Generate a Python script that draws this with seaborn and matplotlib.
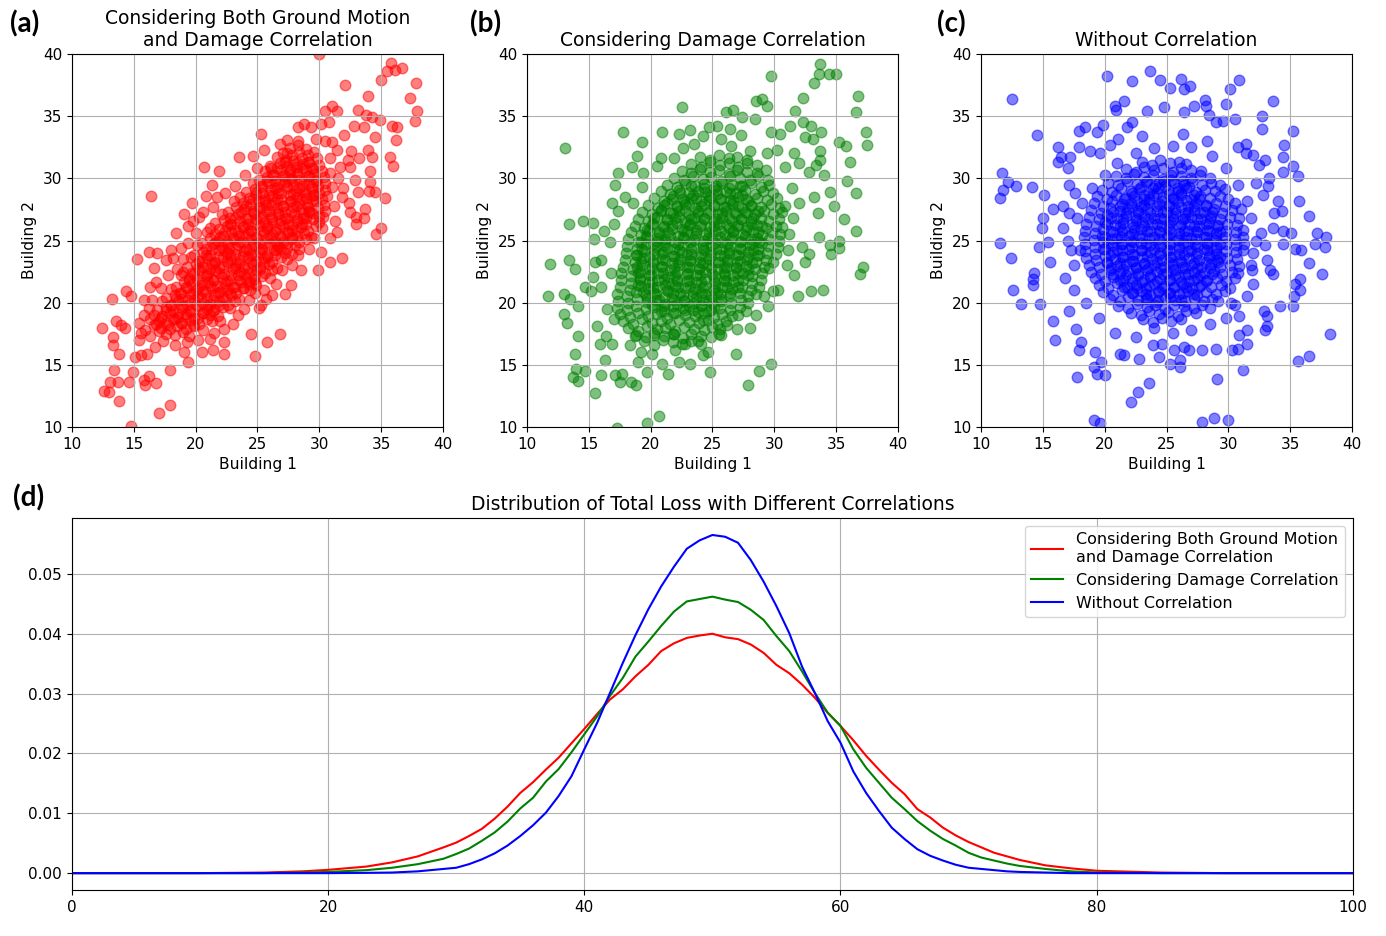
import pandas as pd
import matplotlib
matplotlib.use("Agg")
import matplotlib.pyplot as plt
import seaborn as sns

# ---- scatter data (Building 1, Building 2) ----
# (a) ground motion + damage correlation: dense core
red_core = [
    (15.6,17.6),(16.3,17.3),(17.0,17.7),(17.6,17.5),(18.3,17.4),(19.0,17.65),(19.5,17.3),
    (15.9,17.8),(16.6,18.2),(17.2,18.0),(17.9,17.9),(18.5,18.15),(19.2,17.85),(19.9,18.1),(20.6,17.8),
    (16.3,18.7),(17.0,18.5),(17.6,18.4),(18.3,18.65),(18.9,18.35),(19.6,18.6),(20.3,18.3),(20.9,18.7),(21.3,18.5),
    (16.6,19.0),(17.3,18.9),(17.9,19.15),(18.6,18.85),(19.2,19.1),(19.9,18.8),(20.6,19.2),(21.2,19.0),(21.8,18.9),
    (16.9,19.4),(17.6,19.65),(18.2,19.35),(18.9,19.6),(19.5,19.3),(20.2,19.7),(20.9,19.5),(21.5,19.4),(22.2,19.65),
    (17.3,20.15),(18.0,19.85),(18.6,20.1),(19.3,19.8),(19.9,20.2),(20.6,20.0),(21.2,19.9),(21.9,20.15),(22.6,19.85),(23.2,20.1),
    (17.6,20.35),(18.3,20.6),(18.9,20.3),(19.6,20.7),(20.2,20.5),(20.9,20.4),(21.5,20.65),(22.2,20.35),(22.9,20.6),(23.5,20.3),
    (18.0,21.1),(18.7,20.8),(19.3,21.2),(20.0,21.0),(20.6,20.9),(21.3,21.15),(22.0,20.85),(22.6,21.1),(23.3,20.8),(23.9,21.2),(24.4,21.0),
    (18.4,21.3),(19.1,21.7),(19.7,21.5),(20.4,21.4),(21.0,21.65),(21.7,21.35),(22.4,21.6),(23.0,21.3),(23.7,21.7),(24.3,21.5),(24.9,21.4),
    (18.8,22.2),(19.5,22.0),(20.1,21.9),(20.8,22.15),(21.4,21.85),(22.1,22.1),(22.8,21.8),(23.4,22.2),(24.1,22.0),(24.7,21.9),(25.4,22.15),
    (19.0,22.5),(19.7,22.4),(20.3,22.65),(21.0,22.35),(21.6,22.6),(22.3,22.3),(23.0,22.7),(23.6,22.5),(24.3,22.4),(24.9,22.65),(25.6,22.35),(26.2,22.6),
    (19.3,22.9),(20.0,23.15),(20.6,22.85),(21.3,23.1),(21.9,22.8),(22.6,23.2),(23.3,23.0),(23.9,22.9),(24.6,23.15),(25.2,22.85),(25.9,23.1),(26.6,22.8),
    (19.6,23.65),(20.3,23.35),(20.9,23.6),(21.6,23.3),(22.2,23.7),(22.9,23.5),(23.6,23.4),(24.2,23.65),(24.9,23.35),(25.5,23.6),(26.2,23.3),(26.9,23.7),(27.4,23.5),
    (19.9,23.85),(20.6,24.1),(21.2,23.8),(21.9,24.2),(22.5,24.0),(23.2,23.9),(23.9,24.15),(24.5,23.85),(25.2,24.1),(25.8,23.8),(26.5,24.2),(27.2,24.0),(27.8,23.9),
    (20.1,24.6),(20.8,24.3),(21.4,24.7),(22.1,24.5),(22.7,24.4),(23.4,24.65),(24.1,24.35),(24.7,24.6),(25.4,24.3),(26.0,24.7),(26.7,24.5),(27.4,24.4),(28.0,24.65),(28.4,24.35),
    (20.5,24.8),(21.2,25.2),(21.8,25.0),(22.5,24.9),(23.1,25.15),(23.8,24.85),(24.5,25.1),(25.1,24.8),(25.8,25.2),(26.4,25.0),(27.1,24.9),(27.8,25.15),(28.4,24.85),(28.9,25.1),
    (20.9,25.7),(21.6,25.5),(22.2,25.4),(22.9,25.65),(23.5,25.35),(24.2,25.6),(24.9,25.3),(25.5,25.7),(26.2,25.5),(26.8,25.4),(27.5,25.65),(28.2,25.35),(28.8,25.6),(29.3,25.3),
    (21.2,26.0),(21.9,25.9),(22.5,26.15),(23.2,25.85),(23.8,26.1),(24.5,25.8),(25.2,26.2),(25.8,26.0),(26.5,25.9),(27.1,26.15),(27.8,25.85),(28.5,26.1),(29.1,25.8),(29.7,26.2),
    (21.6,26.4),(22.3,26.65),(22.9,26.35),(23.6,26.6),(24.2,26.3),(24.9,26.7),(25.6,26.5),(26.2,26.4),(26.9,26.65),(27.5,26.35),(28.2,26.6),(28.9,26.3),(29.5,26.7),(30.0,26.5),
    (22.1,27.15),(22.8,26.85),(23.4,27.1),(24.1,26.8),(24.7,27.2),(25.4,27.0),(26.1,26.9),(26.7,27.15),(27.4,26.85),(28.0,27.1),(28.7,26.8),(29.4,27.2),(30.0,27.0),(30.3,26.9),
    (22.6,27.3),(23.3,27.7),(23.9,27.5),(24.6,27.4),(25.2,27.65),(25.9,27.35),(26.6,27.6),(27.2,27.3),(27.9,27.7),(28.5,27.5),(29.2,27.4),(29.9,27.65),(30.5,27.35),
    (23.1,28.2),(23.8,28.0),(24.4,27.9),(25.1,28.15),(25.7,27.85),(26.4,28.1),(27.1,27.8),(27.7,28.2),(28.4,28.0),(29.0,27.9),(29.7,28.15),(30.4,27.85),
    (23.6,28.5),(24.3,28.4),(24.9,28.65),(25.6,28.35),(26.2,28.6),(26.9,28.3),(27.6,28.7),(28.2,28.5),(28.9,28.4),(29.5,28.65),(30.2,28.35),(30.6,28.6),
    (24.1,28.9),(24.8,29.15),(25.4,28.85),(26.1,29.1),(26.7,28.8),(27.4,29.2),(28.1,29.0),(28.7,28.9),(29.4,29.15),(30.0,28.85),(30.5,29.1),
    (24.6,29.65),(25.3,29.35),(25.9,29.6),(26.6,29.3),(27.2,29.7),(27.9,29.5),(28.6,29.4),(29.2,29.65),(29.9,29.35),(30.5,29.6),
    (25.1,29.85),(25.8,30.1),(26.4,29.8),(27.1,30.2),(27.7,30.0),(28.4,29.9),(29.1,30.15),(29.7,29.85),(30.4,30.1),
    (25.6,30.6),(26.3,30.3),(26.9,30.7),(27.6,30.5),(28.2,30.4),(28.9,30.65),(29.6,30.35),(30.2,30.6),
    (26.1,30.8),(26.8,31.2),(27.4,31.0),(28.1,30.9),(28.7,31.15),(29.4,30.85),(30.0,31.1),
    (26.6,31.7),(27.3,31.5),(27.9,31.4),(28.6,31.65),(29.2,31.35),(29.8,31.6),
    (27.1,32.0),(27.8,31.9),(28.4,32.15),(29.1,31.85),(29.6,32.1),
    (27.6,32.4),(28.3,32.65),(28.9,32.35),
]
# (a) extra points in the most crowded middle of the band
red_core2 = [
    (16.8,18.3),(17.8,18.2),(18.8,18.35),(19.8,18.2),
    (17.2,18.8),(18.2,18.7),(19.2,18.85),(20.2,18.75),
    (17.6,19.3),(18.6,19.2),(19.6,19.35),(20.6,19.2),(21.4,19.3),
    (18.0,19.8),(19.0,19.7),(20.0,19.85),(21.0,19.75),(21.9,19.8),
    (18.4,20.3),(19.4,20.2),(20.4,20.35),(21.4,20.2),(22.4,20.3),
    (18.8,20.8),(19.8,20.7),(20.8,20.85),(21.8,20.75),(22.8,20.8),
    (19.2,21.3),(20.2,21.2),(21.2,21.35),(22.2,21.2),(23.2,21.3),(23.8,21.2),
    (19.5,21.8),(20.5,21.7),(21.5,21.85),(22.5,21.75),(23.5,21.8),(24.3,21.7),
    (19.9,22.3),(20.9,22.2),(21.9,22.35),(22.9,22.2),(23.9,22.3),(24.8,22.25),
    (20.2,22.8),(21.2,22.7),(22.2,22.85),(23.2,22.75),(24.2,22.8),(25.2,22.7),
    (20.5,23.3),(21.5,23.2),(22.5,23.35),(23.5,23.2),(24.5,23.3),(25.5,23.25),
    (20.8,23.8),(21.8,23.7),(22.8,23.85),(23.8,23.75),(24.8,23.8),(25.8,23.7),(26.4,23.8),
    (21.3,24.3),(22.3,24.2),(23.3,24.35),(24.3,24.2),(25.3,24.3),(26.3,24.25),(26.9,24.3),
    (21.6,24.8),(22.6,24.7),(23.6,24.85),(24.6,24.75),(25.6,24.8),(26.6,24.7),(27.4,24.8),
    (22.0,25.3),(23.0,25.2),(24.0,25.35),(25.0,25.2),(26.0,25.3),(27.0,25.25),(27.8,25.3),
    (22.4,25.8),(23.4,25.7),(24.4,25.85),(25.4,25.75),(26.4,25.8),(27.4,25.7),(28.2,25.8),
    (22.8,26.3),(23.8,26.2),(24.8,26.35),(25.8,26.2),(26.8,26.3),(27.8,26.25),(28.6,26.3),
    (23.2,26.8),(24.2,26.7),(25.2,26.85),(26.2,26.75),(27.2,26.8),(28.2,26.7),(28.9,26.8),
    (23.7,27.3),(24.7,27.2),(25.7,27.35),(26.7,27.2),(27.7,27.3),(28.7,27.25),(29.2,27.3),
    (24.1,27.8),(25.1,27.7),(26.1,27.85),(27.1,27.75),(28.1,27.8),(29.1,27.7),
    (24.6,28.3),(25.6,28.2),(26.6,28.35),(27.6,28.2),(28.6,28.3),(29.5,28.25),
    (24.9,28.8),(25.9,28.7),(26.9,28.85),(27.9,28.75),(28.9,28.8),(29.6,28.7),
    (25.4,29.3),(26.4,29.2),(27.4,29.35),(28.4,29.2),(29.4,29.3),
    (25.8,29.8),(26.8,29.7),(27.8,29.85),(28.8,29.75),(29.7,29.8),
    (26.2,30.3),(27.2,30.2),(28.2,30.35),(29.2,30.2),
    (26.6,30.8),(27.6,30.7),(28.6,30.85),(29.5,30.75),
    (27.2,31.3),(28.2,31.2),(29.1,31.35),
]
# (a) scattered points around the core
red_outer = [
    (30.0,40.0),(35.8,39.3),(35.5,38.6),(36.1,38.7),(36.7,38.9),(35.0,37.9),(32.1,37.5),(37.8,37.7),
    (33.9,36.6),(37.3,36.5),(37.9,35.4),(37.7,34.6),(31.0,35.8),(30.5,35.4),(31.4,35.4),(33.1,35.5),
    (33.8,35.1),(34.3,34.9),(34.9,34.7),(35.9,34.2),(36.3,34.1),(36.2,33.1),(35.7,31.7),(36.0,31.0),
    (35.3,28.4),(35.0,26.0),(34.6,25.5),(25.3,33.6),(23.5,31.7),(24.6,31.8),(25.5,32.3),(26.8,32.8),
    (27.4,33.1),(28.3,34.1),(28.8,34.4),(29.3,34.1),(30.1,34.4),(30.8,34.5),(20.7,30.9),(21.9,30.6),
    (16.4,28.6),(21.3,29.5),(20.8,28.6),(21.7,28.5),(19.7,28.0),(19.1,27.1),(18.4,25.6),(19.4,26.2),
    (20.3,26.9),(15.3,23.5),(16.2,24.1),(16.9,24.0),(16.6,22.8),(18.0,24.2),(17.6,23.4),(18.5,22.7),
    (16.3,21.3),(16.8,21.7),(14.4,20.9),(13.2,20.3),(14.8,20.5),(15.8,20.2),(12.4,18.0),(13.6,18.5),
    (14.3,18.0),(14.0,18.2),(13.3,17.2),(13.3,16.6),(13.8,15.9),(15.4,17.0),(15.6,15.8),(15.1,15.6),
    (16.1,15.9),(13.4,14.6),(14.9,14.4),(13.1,13.6),(13.7,13.6),(14.6,13.6),(12.6,12.9),(13.0,12.8),
    (13.8,12.1),(15.8,13.8),(16.2,14.1),(15.9,13.4),(16.8,13.5),(17.0,11.1),(17.9,11.8),(17.9,14.6),
    (14.8,10.1),(19.4,15.2),(19.1,16.0),(20.5,16.0),(21.4,16.2),(22.3,15.9),(22.3,16.8),(24.8,15.7),
    (25.8,16.8),(26.8,17.5),(24.5,17.5),(25.1,19.6),(25.7,20.3),(26.2,20.6),(27.2,20.7),(27.7,21.4),
    (28.5,22.6),(29.9,22.6),(30.9,23.3),(31.8,23.6),(30.1,24.1),(30.9,25.2),(31.4,25.7),(33.0,26.3),
    (33.6,26.8),(33.0,26.9),(33.7,27.5),(32.5,27.3),(34.0,29.0),(34.5,28.9),(33.1,28.9),(34.1,29.7),
    (33.9,32.3),(34.3,31.7),(33.2,31.6),(32.9,29.9),(32.5,30.9),(32.0,33.5),(32.8,34.2),(33.6,34.1),
    (34.5,33.3),(34.1,30.6),(30.9,31.6),(31.4,32.3),(31.7,30.9),(31.8,28.5),(32.4,28.0),
    (21.5,17.6),(22.3,17.9),(23.0,18.3),(22.0,18.5),(23.4,19.0),(21.2,17.1),(20.2,17.0),(19.3,16.8),
    (18.3,16.6),(17.4,16.9),(16.7,16.4),(22.8,19.6),(23.9,19.5),(24.3,20.2),(24.8,20.8),
    (31.2,27.8),(31.0,29.3),(31.5,30.0),(30.9,30.4),(31.3,26.6),(31.9,29.2),(32.3,31.5),(32.6,32.2),
    (31.0,32.9),(29.7,33.2),(30.5,33.0),(28.3,33.0),(27.4,32.0),(26.0,31.0),(25.0,30.8),(24.0,30.3),
    (23.2,29.4),(22.4,28.8),(21.4,27.7),(20.6,27.3),(19.8,26.6),(20.0,25.6),(19.4,24.8),(18.8,24.4),
    (19.0,23.5),(18.2,23.6),(17.8,22.2),(17.2,21.2),(16.5,20.2),(16.2,19.6),(15.8,19.0),(15.4,18.4),
    (26.5,21.5),(27.0,22.6),(27.8,23.0),(28.3,23.8),(29.2,24.3),(29.6,25.2),(30.2,26.0),(25.5,21.0),
    (26.0,22.0),(24.8,21.6),(25.3,19.8),
]

# (b) damage correlation only
green_core = [
    (19.5,16.9),(20.3,16.6),(21.0,17.0),(21.8,16.8),(22.5,16.7),(23.3,16.95),(24.1,16.65),
    (18.8,17.4),(19.6,17.2),(20.3,17.55),(21.1,17.3),(21.8,17.45),(22.6,17.15),(23.3,17.5),(24.1,17.35),(24.9,17.2),
    (18.2,17.95),(19.0,17.75),(19.7,18.1),(20.5,17.85),(21.2,18.0),(22.0,17.7),(22.7,18.05),(23.5,17.9),(24.3,17.8),(25.0,18.05),(25.6,17.85),
    (17.8,18.5),(18.6,18.3),(19.3,18.65),(20.1,18.4),(20.8,18.55),(21.6,18.25),(22.3,18.6),(23.1,18.45),(23.9,18.35),(24.6,18.6),(25.4,18.3),(26.1,18.5),
    (17.5,19.05),(18.3,18.85),(19.0,19.2),(19.8,18.95),(20.5,19.1),(21.3,18.8),(22.0,19.15),(22.8,19.0),(23.6,18.9),(24.3,19.15),(25.1,18.85),(25.8,19.05),(26.6,18.9),
    (17.3,19.6),(18.1,19.4),(18.8,19.75),(19.6,19.5),(20.3,19.65),(21.1,19.35),(21.8,19.7),(22.6,19.55),(23.4,19.45),(24.1,19.7),(24.9,19.4),(25.6,19.6),(26.4,19.45),(27.2,19.65),
    (17.4,20.15),(18.2,19.95),(18.9,20.3),(19.7,20.05),(20.4,20.2),(21.2,19.9),(21.9,20.25),(22.7,20.1),(23.5,20.0),(24.2,20.25),(25.0,19.95),(25.7,20.15),(26.5,20.0),(27.3,20.2),(27.9,19.95),
    (17.3,20.7),(18.1,20.5),(18.8,20.85),(19.6,20.6),(20.3,20.75),(21.1,20.45),(21.8,20.8),(22.6,20.65),(23.4,20.55),(24.1,20.8),(24.9,20.5),(25.6,20.7),(26.4,20.55),(27.2,20.75),(27.9,20.5),(28.5,20.7),
    (17.5,21.25),(18.3,21.05),(19.0,21.4),(19.8,21.15),(20.5,21.3),(21.3,21.0),(22.0,21.35),(22.8,21.2),(23.6,21.1),(24.3,21.35),(25.1,21.05),(25.8,21.25),(26.6,21.1),(27.4,21.3),(28.1,21.05),(28.8,21.25),
    (17.6,21.8),(18.4,21.6),(19.1,21.95),(19.9,21.7),(20.6,21.85),(21.4,21.55),(22.1,21.9),(22.9,21.75),(23.7,21.65),(24.4,21.9),(25.2,21.6),(25.9,21.8),(26.7,21.65),(27.5,21.85),(28.2,21.6),(28.9,21.8),
    (17.6,22.35),(18.4,22.15),(19.1,22.5),(19.9,22.25),(20.6,22.4),(21.4,22.1),(22.1,22.45),(22.9,22.3),(23.7,22.2),(24.4,22.45),(25.2,22.15),(25.9,22.35),(26.7,22.2),(27.5,22.4),(28.2,22.15),(29.0,22.35),
    (17.8,22.9),(18.6,22.7),(19.3,23.05),(20.1,22.8),(20.8,22.95),(21.6,22.65),(22.3,23.0),(23.1,22.85),(23.9,22.75),(24.6,23.0),(25.4,22.7),(26.1,22.9),(26.9,22.75),(27.7,22.95),(28.4,22.7),(29.2,22.9),(29.6,22.8),
    (17.9,23.45),(18.7,23.25),(19.4,23.6),(20.2,23.35),(20.9,23.5),(21.7,23.2),(22.4,23.55),(23.2,23.4),(24.0,23.3),(24.7,23.55),(25.5,23.25),(26.2,23.45),(27.0,23.3),(27.8,23.5),(28.5,23.25),(29.3,23.45),(29.9,23.3),
    (18.0,24.0),(18.8,23.8),(19.5,24.15),(20.3,23.9),(21.0,24.05),(21.8,23.75),(22.5,24.1),(23.3,23.95),(24.1,23.85),(24.8,24.1),(25.6,23.8),(26.3,24.0),(27.1,23.85),(27.9,24.05),(28.6,23.8),(29.4,24.0),(30.1,23.9),
    (18.1,24.55),(18.9,24.35),(19.6,24.7),(20.4,24.45),(21.1,24.6),(21.9,24.3),(22.6,24.65),(23.4,24.5),(24.2,24.4),(24.9,24.65),(25.7,24.35),(26.4,24.55),(27.2,24.4),(28.0,24.6),(28.7,24.35),(29.5,24.55),(30.3,24.45),
    (18.2,25.1),(19.0,24.9),(19.7,25.25),(20.5,25.0),(21.2,25.15),(22.0,24.85),(22.7,25.2),(23.5,25.05),(24.3,24.95),(25.0,25.2),(25.8,24.9),(26.5,25.1),(27.3,24.95),(28.1,25.15),(28.8,24.9),(29.6,25.1),(30.4,25.0),
    (18.4,25.65),(19.2,25.45),(19.9,25.8),(20.7,25.55),(21.4,25.7),(22.2,25.4),(22.9,25.75),(23.7,25.6),(24.5,25.5),(25.2,25.75),(26.0,25.45),(26.7,25.65),(27.5,25.5),(28.3,25.7),(29.0,25.45),(29.8,25.65),(30.5,25.55),
    (18.7,26.2),(19.5,26.0),(20.2,26.35),(21.0,26.1),(21.7,26.25),(22.5,25.95),(23.2,26.3),(24.0,26.15),(24.8,26.05),(25.5,26.3),(26.3,26.0),(27.0,26.2),(27.8,26.05),(28.6,26.25),(29.3,26.0),(30.1,26.2),(30.6,26.1),
    (19.0,26.75),(19.8,26.55),(20.5,26.9),(21.3,26.65),(22.0,26.8),(22.8,26.5),(23.5,26.85),(24.3,26.7),(25.1,26.6),(25.8,26.85),(26.6,26.55),(27.3,26.75),(28.1,26.6),(28.9,26.8),(29.6,26.55),(30.4,26.75),
    (19.3,27.3),(20.1,27.1),(20.8,27.45),(21.6,27.2),(22.3,27.35),(23.1,27.05),(23.8,27.4),(24.6,27.25),(25.4,27.15),(26.1,27.4),(26.9,27.1),(27.6,27.3),(28.4,27.15),(29.2,27.35),(29.9,27.1),(30.6,27.3),
    (19.8,27.85),(20.6,27.65),(21.3,28.0),(22.1,27.75),(22.8,27.9),(23.6,27.6),(24.3,27.95),(25.1,27.8),(25.9,27.7),(26.6,27.95),(27.4,27.65),(28.1,27.85),(28.9,27.7),(29.7,27.9),(30.4,27.65),
    (20.3,28.4),(21.1,28.2),(21.8,28.55),(22.6,28.3),(23.3,28.45),(24.1,28.15),(24.8,28.5),(25.6,28.35),(26.4,28.25),(27.1,28.5),(27.9,28.2),(28.6,28.4),(29.4,28.25),(30.2,28.45),
    (20.8,28.95),(21.6,28.75),(22.3,29.1),(23.1,28.85),(23.8,29.0),(24.6,28.7),(25.3,29.05),(26.1,28.9),(26.9,28.8),(27.6,29.05),(28.4,28.75),(29.1,28.95),(29.9,28.8),
    (21.3,29.5),(22.1,29.3),(22.8,29.65),(23.6,29.4),(24.3,29.55),(25.1,29.25),(25.8,29.6),(26.6,29.45),(27.4,29.35),(28.1,29.6),(28.9,29.3),(29.6,29.5),
    (21.9,30.05),(22.7,29.85),(23.4,30.2),(24.2,29.95),(24.9,30.1),(25.7,29.8),(26.4,30.15),(27.2,30.0),(28.0,29.9),(28.7,30.15),(29.5,29.85),
    (22.5,30.6),(23.3,30.4),(24.0,30.75),(24.8,30.5),(25.5,30.65),(26.3,30.35),(27.0,30.7),(27.8,30.55),(28.6,30.45),(29.3,30.7),
    (23.3,31.15),(24.1,30.95),(24.8,31.3),(25.6,31.05),(26.3,31.2),(27.1,30.9),(27.8,31.25),(28.6,31.1),
    (24.0,31.7),(24.8,31.5),(25.5,31.85),(26.3,31.6),(27.0,31.75),(27.8,31.45),
]
green_core2 = [
    (20.8,19.35),(21.8,19.2),(22.8,19.4),(23.8,19.25),(24.7,19.3),
    (20.1,19.85),(21.1,19.7),(22.1,19.9),(23.1,19.75),(24.1,19.85),(25.1,19.7),
    (19.7,20.35),(20.7,20.2),(21.7,20.4),(22.7,20.25),(23.7,20.35),(24.7,20.2),(25.7,20.3),
    (19.4,20.85),(20.4,20.7),(21.4,20.9),(22.4,20.75),(23.4,20.85),(24.4,20.7),(25.4,20.8),(26.4,20.75),
    (19.2,21.35),(20.2,21.2),(21.2,21.4),(22.2,21.25),(23.2,21.35),(24.2,21.2),(25.2,21.3),(26.2,21.25),(27.1,21.3),
    (19.1,21.85),(20.1,21.7),(21.1,21.9),(22.1,21.75),(23.1,21.85),(24.1,21.7),(25.1,21.8),(26.1,21.75),(27.1,21.85),
    (19.0,22.35),(20.0,22.2),(21.0,22.4),(22.0,22.25),(23.0,22.35),(24.0,22.2),(25.0,22.3),(26.0,22.25),(27.0,22.35),(27.9,22.2),
    (18.9,22.85),(19.9,22.7),(20.9,22.9),(21.9,22.75),(22.9,22.85),(23.9,22.7),(24.9,22.8),(25.9,22.75),(26.9,22.85),(27.9,22.7),
    (19.2,23.35),(20.2,23.2),(21.2,23.4),(22.2,23.25),(23.2,23.35),(24.2,23.2),(25.2,23.3),(26.2,23.25),(27.2,23.35),(28.2,23.2),
    (18.9,23.85),(19.9,23.7),(20.9,23.9),(21.9,23.75),(22.9,23.85),(23.9,23.7),(24.9,23.8),(25.9,23.75),(26.9,23.85),(27.9,23.7),(28.8,23.8),
    (19.3,24.35),(20.3,24.2),(21.3,24.4),(22.3,24.25),(23.3,24.35),(24.3,24.2),(25.3,24.3),(26.3,24.25),(27.3,24.35),(28.3,24.2),
    (19.2,24.85),(20.2,24.7),(21.2,24.9),(22.2,24.75),(23.2,24.85),(24.2,24.7),(25.2,24.8),(26.2,24.75),(27.2,24.85),(28.2,24.7),(29.0,24.8),
    (19.6,25.35),(20.6,25.2),(21.6,25.4),(22.6,25.25),(23.6,25.35),(24.6,25.2),(25.6,25.3),(26.6,25.25),(27.6,25.35),(28.6,25.2),
    (19.7,25.85),(20.7,25.7),(21.7,25.9),(22.7,25.75),(23.7,25.85),(24.7,25.7),(25.7,25.8),(26.7,25.75),(27.7,25.85),(28.7,25.7),
    (20.1,26.35),(21.1,26.2),(22.1,26.4),(23.1,26.25),(24.1,26.35),(25.1,26.2),(26.1,26.3),(27.1,26.25),(28.1,26.35),(29.0,26.2),
    (20.3,26.85),(21.3,26.7),(22.3,26.9),(23.3,26.75),(24.3,26.85),(25.3,26.7),(26.3,26.8),(27.3,26.75),(28.3,26.85),
    (20.8,27.35),(21.8,27.2),(22.8,27.4),(23.8,27.25),(24.8,27.35),(25.8,27.2),(26.8,27.3),(27.8,27.25),(28.7,27.35),
    (21.1,27.85),(22.1,27.7),(23.1,27.9),(24.1,27.75),(25.1,27.85),(26.1,27.7),(27.1,27.8),(28.1,27.75),
    (21.7,28.35),(22.7,28.2),(23.7,28.4),(24.7,28.25),(25.7,28.35),(26.7,28.2),(27.7,28.3),
    (22.4,28.85),(23.4,28.7),(24.4,28.9),(25.4,28.75),(26.4,28.85),(27.4,28.7),
    (23.3,29.35),(24.3,29.2),(25.3,29.4),(26.3,29.25),(27.2,29.35),
]
green_outer = [
    (33.7,39.2),(33.6,38.4),(34.4,38.4),(35.0,38.4),(33.2,37.7),(29.7,38.2),(36.8,36.6),(36.6,35.3),
    (32.3,36.5),(31.7,35.4),(28.5,36.2),(29.0,36.4),(29.4,35.8),(26.1,35.3),(26.7,35.5),(27.4,34.9),
    (28.4,34.8),(22.5,35.7),(17.8,33.7),(13.1,32.4),(20.9,33.7),(22.3,33.6),(23.2,33.9),(24.7,34.1),
    (25.4,34.2),(19.3,32.9),(18.9,31.8),(18.5,30.9),(17.4,30.4),(17.1,29.5),(19.4,30.4),(19.3,29.3),
    (20.8,31.6),(22.6,32.4),(25.7,33.2),(26.4,34.0),(27.3,33.5),(29.7,33.7),(30.5,33.6),(31.3,34.2),
    (32.3,34.5),(33.0,34.2),(33.8,33.7),(32.5,33.3),(33.1,33.2),(33.7,32.2),(35.2,32.9),(35.8,32.6),
    (37.4,33.7),(37.5,32.7),(36.1,31.3),(33.7,31.5),(33.4,31.1),(30.9,30.9),(32.8,30.5),(34.0,30.3),
    (35.9,29.8),(36.6,28.8),(34.5,28.9),(34.8,27.8),(33.2,28.5),(35.6,26.7),(33.5,27.2),(36.6,25.8),
    (35.2,25.0),(34.5,24.6),(35.2,24.4),(34.6,23.9),(37.2,22.9),(36.9,22.3),(33.6,25.3),(32.8,23.9),
    (32.5,23.3),(31.6,22.2),(31.0,23.0),(31.9,20.5),(33.0,20.9),(33.9,21.0),(30.3,21.0),(29.5,19.7),
    (29.7,15.1),(28.8,14.5),(26.9,15.9),(27.9,13.4),(24.8,14.4),(26.2,18.2),(25.5,17.5),(13.4,26.3),
    (14.5,26.6),(15.3,26.4),(11.9,23.1),(13.4,23.4),(13.9,22.7),(11.7,20.5),(13.0,20.7),(13.5,20.3),
    (14.1,19.7),(13.0,19.1),(13.2,18.4),(14.1,17.3),(13.9,15.9),(14.0,14.7),(13.7,14.0),(14.1,13.7),
    (14.7,14.5),(15.5,12.7),(16.0,14.2),(17.1,14.2),(17.7,14.3),(17.5,13.6),(18.4,13.6),(18.8,13.4),
    (19.7,14.4),(20.7,10.9),(19.7,10.3),(17.3,9.9),(16.3,15.4),(15.9,16.7),(16.4,17.3),(16.9,16.7),
    (15.7,18.1),(15.3,22.1),(14.7,21.3),(15.2,20.9),(16.0,21.3),(15.5,23.3),(16.0,23.4),(16.2,25.8),
    (15.4,25.1),(16.9,28.0),(17.4,27.4),(17.9,28.5),(18.6,28.0),(16.7,24.9),(20.9,15.1),(21.4,14.3),
    (22.3,15.2),(23.2,15.1),(24.2,15.8),(20.1,15.9),(19.2,16.0),(18.3,16.6),(18.7,17.3),(20.3,17.4),
    (21.9,17.5),(22.8,16.7),(23.8,16.9),(24.6,16.0),(24.2,18.6),(25.7,17.4),(27.1,19.0),(27.7,19.3),
    (28.5,19.0),(29.2,20.5),(29.9,20.9),
    (31.2,25.5),(31.5,26.8),(32.0,28.0),(31.4,29.2),(32.2,24.5),(31.1,24.2),(30.9,27.8),(16.8,22.4),
    (17.0,26.3),(16.5,19.5),(17.0,18.7),(19.0,15.2),(22.0,16.2),(27.0,17.9),(28.0,18.0),(20.5,31.0),
    (21.9,31.6),(23.5,32.8),(24.2,33.4),(26.5,32.6),(28.0,32.2),(29.4,32.0),(30.2,32.3),(31.6,32.0),
    (32.0,31.2),
]

# (c) without correlation
blue_core = [
    (23.1,18.65),(23.9,18.45),(24.6,18.8),(25.4,18.55),(26.2,18.7),
    (22.1,19.2),(22.9,19.0),(23.6,19.35),(24.4,19.1),(25.1,19.25),(25.9,18.95),(26.6,19.3),(27.4,19.15),
    (21.1,19.75),(21.9,19.55),(22.6,19.9),(23.4,19.65),(24.1,19.8),(24.9,19.5),(25.6,19.85),(26.4,19.7),(27.2,19.6),(27.9,19.85),(28.5,19.6),
    (20.4,20.3),(21.2,20.1),(21.9,20.45),(22.7,20.2),(23.4,20.35),(24.2,20.05),(24.9,20.4),(25.7,20.25),(26.5,20.15),(27.2,20.4),(28.0,20.1),(28.7,20.3),(29.2,20.15),
    (19.9,20.85),(20.7,20.65),(21.4,21.0),(22.2,20.75),(22.9,20.9),(23.7,20.6),(24.4,20.95),(25.2,20.8),(26.0,20.7),(26.7,20.95),(27.5,20.65),(28.2,20.85),(29.0,20.7),(29.7,20.9),
    (19.5,21.4),(20.3,21.2),(21.0,21.55),(21.8,21.3),(22.5,21.45),(23.3,21.15),(24.0,21.5),(24.8,21.35),(25.6,21.25),(26.3,21.5),(27.1,21.2),(27.8,21.4),(28.6,21.25),(29.4,21.45),(30.1,21.2),
    (19.2,21.95),(20.0,21.75),(20.7,22.1),(21.5,21.85),(22.2,22.0),(23.0,21.7),(23.7,22.05),(24.5,21.9),(25.3,21.8),(26.0,22.05),(26.8,21.75),(27.5,21.95),(28.3,21.8),(29.1,22.0),(29.8,21.75),(30.5,21.95),
    (18.9,22.5),(19.7,22.3),(20.4,22.65),(21.2,22.4),(21.9,22.55),(22.7,22.25),(23.4,22.6),(24.2,22.45),(25.0,22.35),(25.7,22.6),(26.5,22.3),(27.2,22.5),(28.0,22.35),(28.8,22.55),(29.5,22.3),(30.3,22.5),(30.8,22.4),
    (18.7,23.05),(19.5,22.85),(20.2,23.2),(21.0,22.95),(21.7,23.1),(22.5,22.8),(23.2,23.15),(24.0,23.0),(24.8,22.9),(25.5,23.15),(26.3,22.85),(27.0,23.05),(27.8,22.9),(28.6,23.1),(29.3,22.85),(30.1,23.05),(30.9,22.95),
    (18.5,23.6),(19.3,23.4),(20.0,23.75),(20.8,23.5),(21.5,23.65),(22.3,23.35),(23.0,23.7),(23.8,23.55),(24.6,23.45),(25.3,23.7),(26.1,23.4),(26.8,23.6),(27.6,23.45),(28.4,23.65),(29.1,23.4),(29.9,23.6),(30.7,23.5),
    (18.4,24.15),(19.2,23.95),(19.9,24.3),(20.7,24.05),(21.4,24.2),(22.2,23.9),(22.9,24.25),(23.7,24.1),(24.5,24.0),(25.2,24.25),(26.0,23.95),(26.7,24.15),(27.5,24.0),(28.3,24.2),(29.0,23.95),(29.8,24.15),(30.6,24.05),(31.2,24.2),
    (18.4,24.7),(19.2,24.5),(19.9,24.85),(20.7,24.6),(21.4,24.75),(22.2,24.45),(22.9,24.8),(23.7,24.65),(24.5,24.55),(25.2,24.8),(26.0,24.5),(26.7,24.7),(27.5,24.55),(28.3,24.75),(29.0,24.5),(29.8,24.7),(30.6,24.6),(31.3,24.75),
    (18.3,25.25),(19.1,25.05),(19.8,25.4),(20.6,25.15),(21.3,25.3),(22.1,25.0),(22.8,25.35),(23.6,25.2),(24.4,25.1),(25.1,25.35),(25.9,25.05),(26.6,25.25),(27.4,25.1),(28.2,25.3),(28.9,25.05),(29.7,25.25),(30.5,25.15),(31.2,25.3),
    (18.4,25.8),(19.2,25.6),(19.9,25.95),(20.7,25.7),(21.4,25.85),(22.2,25.55),(22.9,25.9),(23.7,25.75),(24.5,25.65),(25.2,25.9),(26.0,25.6),(26.7,25.8),(27.5,25.65),(28.3,25.85),(29.0,25.6),(29.8,25.8),(30.6,25.7),(31.2,25.85),
    (18.5,26.35),(19.3,26.15),(20.0,26.5),(20.8,26.25),(21.5,26.4),(22.3,26.1),(23.0,26.45),(23.8,26.3),(24.6,26.2),(25.3,26.45),(26.1,26.15),(26.8,26.35),(27.6,26.2),(28.4,26.4),(29.1,26.15),(29.9,26.35),(30.7,26.25),
    (18.7,26.9),(19.5,26.7),(20.2,27.05),(21.0,26.8),(21.7,26.95),(22.5,26.65),(23.2,27.0),(24.0,26.85),(24.8,26.75),(25.5,27.0),(26.3,26.7),(27.0,26.9),(27.8,26.75),(28.6,26.95),(29.3,26.7),(30.1,26.9),(30.9,26.8),
    (18.9,27.45),(19.7,27.25),(20.4,27.6),(21.2,27.35),(21.9,27.5),(22.7,27.2),(23.4,27.55),(24.2,27.4),(25.0,27.3),(25.7,27.55),(26.5,27.25),(27.2,27.45),(28.0,27.3),(28.8,27.5),(29.5,27.25),(30.3,27.45),
    (19.1,28.0),(19.9,27.8),(20.6,28.15),(21.4,27.9),(22.1,28.05),(22.9,27.75),(23.6,28.1),(24.4,27.95),(25.2,27.85),(25.9,28.1),(26.7,27.8),(27.4,28.0),(28.2,27.85),(29.0,28.05),(29.7,27.8),(30.5,28.0),
    (19.4,28.55),(20.2,28.35),(20.9,28.7),(21.7,28.45),(22.4,28.6),(23.2,28.3),(23.9,28.65),(24.7,28.5),(25.5,28.4),(26.2,28.65),(27.0,28.35),(27.7,28.55),(28.5,28.4),(29.3,28.6),(30.0,28.35),
    (19.8,29.1),(20.6,28.9),(21.3,29.25),(22.1,29.0),(22.8,29.15),(23.6,28.85),(24.3,29.2),(25.1,29.05),(25.9,28.95),(26.6,29.2),(27.4,28.9),(28.1,29.1),(28.9,28.95),(29.7,29.15),
    (20.3,29.65),(21.1,29.45),(21.8,29.8),(22.6,29.55),(23.3,29.7),(24.1,29.4),(24.8,29.75),(25.6,29.6),(26.4,29.5),(27.1,29.75),(27.9,29.45),(28.6,29.65),(29.3,29.5),
    (20.9,30.2),(21.7,30.0),(22.4,30.35),(23.2,30.1),(23.9,30.25),(24.7,29.95),(25.4,30.3),(26.2,30.15),(27.0,30.05),(27.7,30.3),(28.5,30.0),
    (21.7,30.75),(22.5,30.55),(23.2,30.9),(24.0,30.65),(24.7,30.8),(25.5,30.5),(26.2,30.85),(27.0,30.7),(27.8,30.6),
    (23.0,31.3),(23.8,31.1),(24.5,31.45),(25.3,31.2),(26.0,31.35),(26.6,31.15),
]
blue_core2 = [
    (23.3,20.3),(24.3,20.2),(25.3,20.35),(26.2,20.25),
    (22.3,20.8),(23.3,20.7),(24.3,20.85),(25.3,20.75),(26.3,20.8),(27.2,20.7),
    (21.6,21.3),(22.6,21.2),(23.6,21.35),(24.6,21.2),(25.6,21.3),(26.6,21.25),(27.6,21.3),
    (21.2,21.8),(22.2,21.7),(23.2,21.85),(24.2,21.75),(25.2,21.8),(26.2,21.7),(27.2,21.8),(28.2,21.75),
    (20.7,22.3),(21.7,22.2),(22.7,22.35),(23.7,22.2),(24.7,22.3),(25.7,22.25),(26.7,22.3),(27.7,22.2),(28.7,22.3),
    (20.5,22.8),(21.5,22.7),(22.5,22.85),(23.5,22.75),(24.5,22.8),(25.5,22.7),(26.5,22.8),(27.5,22.75),(28.5,22.8),
    (20.2,23.3),(21.2,23.2),(22.2,23.35),(23.2,23.2),(24.2,23.3),(25.2,23.25),(26.2,23.3),(27.2,23.2),(28.2,23.3),(29.2,23.25),
    (20.4,23.8),(21.4,23.7),(22.4,23.85),(23.4,23.75),(24.4,23.8),(25.4,23.7),(26.4,23.8),(27.4,23.75),(28.4,23.8),(29.3,23.7),
    (20.0,24.3),(21.0,24.2),(22.0,24.35),(23.0,24.2),(24.0,24.3),(25.0,24.25),(26.0,24.3),(27.0,24.2),(28.0,24.3),(29.0,24.25),
    (20.3,24.8),(21.3,24.7),(22.3,24.85),(23.3,24.75),(24.3,24.8),(25.3,24.7),(26.3,24.8),(27.3,24.75),(28.3,24.8),(29.3,24.7),
    (20.0,25.3),(21.0,25.2),(22.0,25.35),(23.0,25.2),(24.0,25.3),(25.0,25.25),(26.0,25.3),(27.0,25.2),(28.0,25.3),(29.0,25.25),
    (20.4,25.8),(21.4,25.7),(22.4,25.85),(23.4,25.75),(24.4,25.8),(25.4,25.7),(26.4,25.8),(27.4,25.75),(28.4,25.8),(29.3,25.7),
    (20.2,26.3),(21.2,26.2),(22.2,26.35),(23.2,26.2),(24.2,26.3),(25.2,26.25),(26.2,26.3),(27.2,26.2),(28.2,26.3),(29.2,26.25),
    (20.5,26.8),(21.5,26.7),(22.5,26.85),(23.5,26.75),(24.5,26.8),(25.5,26.7),(26.5,26.8),(27.5,26.75),(28.5,26.8),
    (20.7,27.3),(21.7,27.2),(22.7,27.35),(23.7,27.2),(24.7,27.3),(25.7,27.25),(26.7,27.3),(27.7,27.2),(28.7,27.3),
    (21.2,27.8),(22.2,27.7),(23.2,27.85),(24.2,27.75),(25.2,27.8),(26.2,27.7),(27.2,27.8),(28.2,27.75),
    (21.6,28.3),(22.6,28.2),(23.6,28.35),(24.6,28.2),(25.6,28.3),(26.6,28.25),(27.6,28.3),
    (22.2,28.8),(23.2,28.7),(24.2,28.85),(25.2,28.75),(26.2,28.8),(27.2,28.7),
    (22.9,29.3),(23.9,29.2),(24.9,29.35),(25.9,29.2),(26.8,29.3),
    (23.4,29.8),(24.4,29.7),(25.4,29.85),(26.3,29.75),
]
blue_outer = [
    (12.5,36.4),(20.2,38.2),(22.2,37.8),(23.7,38.6),(24.5,37.9),(25.3,37.3),(26.2,38.0),(26.4,37.2),
    (26.9,37.4),(30.1,37.2),(30.9,37.9),(33.6,36.2),(21.6,36.2),(20.8,35.8),(20.9,35.5),(23.4,35.4),
    (24.8,35.7),(26.4,35.3),(27.2,35.8),(28.1,36.3),(28.2,35.8),(29.8,36.0),(28.4,35.1),(29.0,34.5),
    (29.6,34.6),(30.5,34.8),(32.7,35.0),(32.7,34.0),(35.2,33.8),(14.5,33.5),(11.7,30.4),(12.2,29.7),
    (11.8,29.1),(11.5,28.4),(12.8,29.4),(14.1,29.3),(15.1,28.7),(11.5,24.8),(12.4,23.6),(12.6,21.0),
    (13.2,19.9),(14.8,19.9),(14.3,22.4),(14.2,21.9),(14.2,21.4),(15.6,23.3),(14.7,24.5),(15.4,24.9),
    (14.9,26.0),(15.0,26.8),(15.8,27.5),(16.6,27.8),(17.1,27.2),(17.1,29.5),(17.6,28.8),(16.2,32.5),
    (16.5,31.7),(16.2,31.3),(17.0,30.8),(17.2,31.7),(17.9,32.5),(17.9,33.8),(18.4,34.1),(19.4,33.7),
    (19.9,34.3),(18.8,32.2),(19.6,32.0),(21.1,33.2),(20.4,32.7),(21.8,34.1),(22.2,34.5),(15.8,18.5),
    (16.0,17.0),(17.1,19.3),(17.7,17.9),(18.1,16.8),(17.9,16.2),(19.2,16.0),(19.1,14.8),(19.4,14.3),
    (20.0,14.2),(19.7,15.2),(17.8,14.0),(19.1,10.6),(19.6,10.3),(22.1,12.0),(22.7,12.8),(23.6,13.5),
    (21.2,15.9),(21.6,15.8),(22.8,15.5),(24.4,15.6),(25.3,15.1),(26.1,14.8),(26.1,15.4),(23.9,16.6),
    (24.6,16.7),(25.6,16.2),(26.4,16.4),(26.8,16.2),(27.9,16.2),(29.0,16.3),(29.1,13.9),(27.9,10.4),
    (28.8,10.7),(30.0,10.6),(31.2,14.6),(30.3,16.2),(30.9,17.4),(31.5,16.7),(30.8,16.3),(31.5,17.8),
    (33.0,17.8),(33.1,18.1),(33.1,18.9),(32.9,19.3),(30.9,18.9),(30.5,19.8),(35.6,15.3),(36.5,15.7),
    (38.2,17.5),(35.3,20.5),(34.2,19.7),(35.2,19.7),(35.4,21.5),(35.8,21.9),(35.8,21.0),(36.5,23.2),
    (37.6,22.3),(35.4,24.3),(35.9,24.2),(37.2,25.6),(37.9,25.3),(37.8,24.5),(37.0,24.7),(34.4,24.7),
    (35.1,25.6),(34.4,25.8),(33.6,26.0),(36.5,27.0),(35.7,28.2),(34.3,27.4),(34.0,28.2),(33.7,27.2),
    (35.6,30.2),(35.2,31.0),(34.4,30.5),(34.4,31.7),(34.5,32.7),(33.0,31.5),(32.5,31.1),(33.2,29.4),
    (33.3,30.0),(32.2,29.6),(30.8,32.5),(31.4,32.0),(32.0,31.9),(31.4,32.8),(32.8,28.7),(32.6,25.6),
    (33.1,23.4),(33.4,22.6),(33.6,22.3),(31.9,22.6),(32.0,24.0),
    (17.0,25.0),(17.5,23.0),(17.8,26.8),(16.8,22.0),(17.5,21.0),(18.5,20.0),(19.5,18.8),(20.8,17.6),
    (22.5,17.2),(24.0,18.0),(25.5,17.6),(27.0,17.8),(28.5,18.3),(29.8,18.8),(31.5,20.5),(32.0,21.5),
    (31.8,23.0),(32.2,25.0),(31.8,26.8),(31.5,28.2),(30.8,29.5),(29.8,30.8),(28.7,31.8),(27.0,32.5),
    (25.5,32.6),(24.0,32.4),(22.5,32.0),(21.0,31.2),(20.0,30.3),(19.0,29.2),(18.2,28.0),(16.6,26.0),
    (18.0,24.2),(31.0,27.5),(30.2,20.0),(23.0,33.4),(26.3,33.6),(28.3,33.0),(17.3,24.2),(33.0,24.6),
]

# ---- total-loss distribution (d) ----
loss_x = [0, 10, 15, 18, 20, 23, 25, 27, 29,
          30, 31, 32, 33, 34, 35, 36, 37, 38, 39, 40, 41, 42, 43, 44, 45, 46, 47, 48, 49, 50,
          51, 52, 53, 54, 55, 56, 57, 58, 59, 60, 61, 62, 63, 64, 65, 66, 67, 68, 69, 70,
          71, 72, 73, 74, 76, 78, 80, 85, 90, 100]
loss_red = [0, 0, 0.0001, 0.0003, 0.00055, 0.0011, 0.0018, 0.0028, 0.0043,
            0.0051, 0.0062, 0.0074, 0.0091, 0.0111, 0.0134, 0.0152, 0.0173, 0.0193, 0.0217, 0.0241,
            0.0266, 0.0290, 0.0307, 0.0329, 0.0348, 0.0371, 0.0384, 0.0393, 0.0397, 0.0400,
            0.0394, 0.0391, 0.0382, 0.0368, 0.0348, 0.0334, 0.0315, 0.0293, 0.0268, 0.0246,
            0.0222, 0.0196, 0.0173, 0.0151, 0.0132, 0.0107, 0.0093, 0.0076, 0.0063, 0.0052,
            0.0043, 0.0034, 0.0028, 0.0022, 0.0013, 0.0008, 0.0004, 0.0001, 0, 0]
loss_green = [0, 0, 0, 0.0001, 0.0002, 0.0005, 0.0009, 0.0015, 0.0024,
              0.0032, 0.0041, 0.0054, 0.0068, 0.0086, 0.0108, 0.0126, 0.0153, 0.0174, 0.0202, 0.0232,
              0.0262, 0.0296, 0.0326, 0.0362, 0.0387, 0.0413, 0.0437, 0.0454, 0.0458, 0.0462,
              0.0457, 0.0453, 0.0440, 0.0423, 0.0396, 0.0371, 0.0337, 0.0301, 0.0268, 0.0246,
              0.0207, 0.0176, 0.0151, 0.0126, 0.0107, 0.0087, 0.0071, 0.0057, 0.0046, 0.0034,
              0.0026, 0.0021, 0.0016, 0.0012, 0.0007, 0.0003, 0.0001, 0, 0, 0]
loss_blue = [0, 0, 0, 0, 0, 0.00005, 0.0001, 0.0003, 0.0007,
             0.0009, 0.0015, 0.0023, 0.0033, 0.0046, 0.0062, 0.0080, 0.0101, 0.0129, 0.0162, 0.0207,
             0.0251, 0.0301, 0.0351, 0.0398, 0.0441, 0.0479, 0.0512, 0.0542, 0.0556, 0.0565,
             0.0562, 0.0552, 0.0523, 0.0487, 0.0446, 0.0401, 0.0345, 0.0301, 0.0254, 0.0218,
             0.0170, 0.0134, 0.0104, 0.0076, 0.0057, 0.0040, 0.0029, 0.0021, 0.0014, 0.0009,
             0.0007, 0.0005, 0.0003, 0.0002, 0.0001, 0, 0, 0, 0, 0]

titles = ["Considering Both Ground Motion\nand Damage Correlation",
          "Considering Damage Correlation",
          "Without Correlation"]
colors = ["red", "green", "blue"]
tags = ["(a)", "(b)", "(c)"]

plt.rcParams['font.family'] = ['DejaVu Sans']
fig = plt.figure(figsize=(13.86, 9.36), dpi=100)

top_pos = [[0.0519, 0.5438, 0.2677, 0.3985],
           [0.3802, 0.5438, 0.2677, 0.3985],
           [0.7078, 0.5438, 0.2677, 0.3985]]
tag_x = [0.0072, 0.339, 0.676]
point_sets = [red_core + red_core2 + red_outer,
              green_core + green_core2 + green_outer,
              blue_core + blue_core2 + blue_outer]

for i in range(3):
    ax = fig.add_axes(top_pos[i])
    df = pd.DataFrame(point_sets[i], columns=["b1", "b2"])
    sns.scatterplot(data=df, x="b1", y="b2", color=colors[i], alpha=0.5, s=58,
                    edgecolor=colors[i], linewidth=1, ax=ax)
    ax.set_xlim(10, 40)
    ax.set_ylim(10, 40)
    ax.set_xticks(range(10, 41, 5))
    ax.set_yticks(range(10, 41, 5))
    ax.grid(True)
    ax.tick_params(labelsize=11)
    ax.set_xlabel("Building 1", fontsize=11.2)
    ax.set_ylabel("Building 2", fontsize=11.2)
    ax.set_title(titles[i], fontsize=13.5)
    fig.text(tag_x[i], 0.975, tags[i], fontsize=20, fontweight="bold",
             family=["Lato", "DejaVu Sans"], va="center")

ax4 = fig.add_axes([0.0519, 0.0491, 0.9242, 0.3974])
for vals, col, lab in zip([loss_red, loss_green, loss_blue], colors, titles):
    sns.lineplot(x=loss_x, y=vals, color=col, label=lab, linewidth=1.5, ax=ax4)
ax4.set_xlim(0, 100)
ax4.set_xticks(range(0, 101, 20))
ax4.set_yticks([0.0, 0.01, 0.02, 0.03, 0.04, 0.05])
ax4.grid(True)
ax4.tick_params(labelsize=11)
ax4.set_title("Distribution of Total Loss with Different Correlations", fontsize=13.5)
ax4.legend(loc="upper right", fontsize=11.5)
fig.text(0.0094, 0.468, "(d)", fontsize=20, fontweight="bold",
         family=["Lato", "DejaVu Sans"], va="center")

fig.savefig("out.png", dpi=100)
